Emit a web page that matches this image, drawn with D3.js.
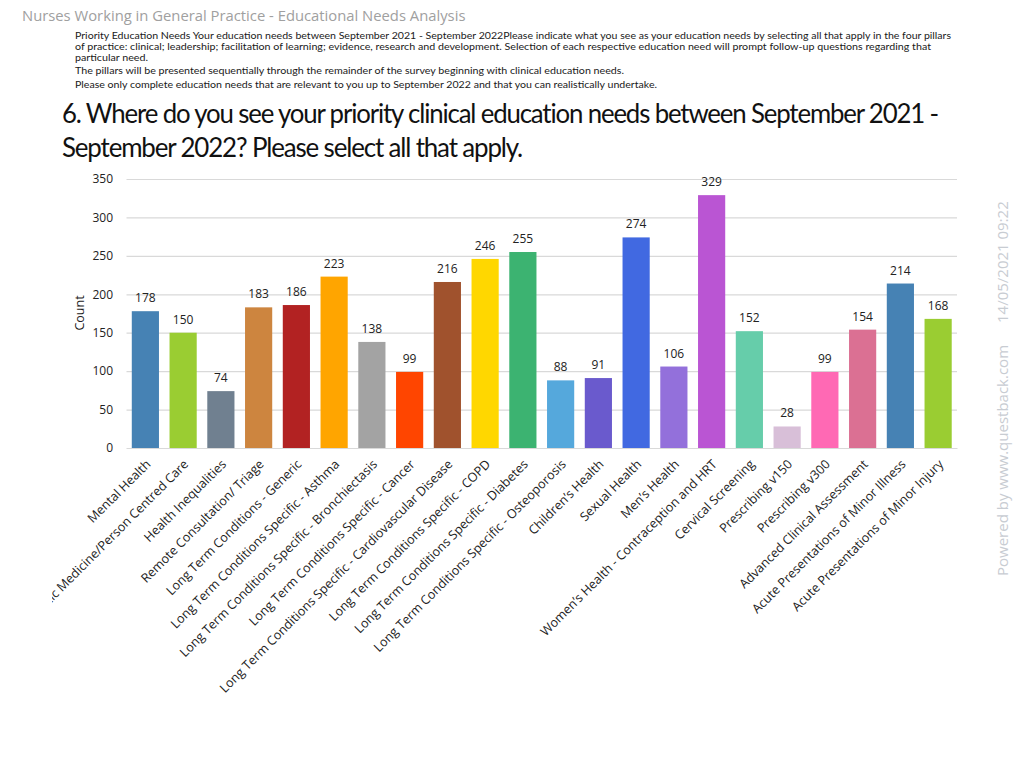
<!DOCTYPE html>
<html><head><meta charset="utf-8">
<script src="https://cdn.jsdelivr.net/npm/d3@7"></script>
<style>body{margin:0;background:#fff}svg{display:block}text{font-family:"Open Sans",sans-serif}</style>
</head><body>
<svg id="c" width="1024" height="768"></svg>
<script>
const categories = ["Mental Health","Holistic Medicine/Person Centred Care","Health Inequalities","Remote Consultation/ Triage","Long Term Conditions - Generic","Long Term Conditions Specific - Asthma","Long Term Conditions Specific - Bronchiectasis","Long Term Conditions Specific - Cancer","Long Term Conditions Specific  - Cardiovascular Disease","Long Term Conditions Specific - COPD","Long Term Conditions Specific - Diabetes","Long Term Conditions Specific - Osteoporosis","Children’s Health","Sexual Health","Men’s Health","Women’s Health - Contraception and HRT","Cervical Screening","Prescribing v150","Prescribing v300","Advanced Clinical Assessment","Acute Presentations of Minor Illness","Acute Presentations of Minor Injury"];
const values = [178,150,74,183,186,223,138,99,216,246,255,88,91,274,106,329,152,28,99,154,214,168];
const colors = ["#4682B4","#9ACD32","#708090","#CD853F","#B22222","#FFA500","#A3A3A3","#FF4500","#A0522D","#FFD700","#3CB371","#55A8DC","#6A5ACD","#4169E1","#9370DB","#BA55D3","#66CDAA","#D8BFD8","#FF69B4","#DB7093","#4682B4","#9ACD32"];
const yTicks = [0,50,100,150,200,250,300,350];
const headerTitle = "Nurses Working in General Practice - Educational Needs Analysis";
const introLines = ["Priority Education Needs Your education needs between September 2021 - September 2022Please indicate what you see as your education needs by selecting all that apply in the four pillars","of practice: clinical; leadership; facilitation of learning; evidence, research and development. Selection of each respective education need will prompt follow-up questions regarding that","particular need.","The pillars will be presented sequentially through the remainder of the survey beginning with clinical education needs.","Please only complete education needs that are relevant to you up to September 2022 and that you can realistically undertake."];
const questionLines = ["6. Where do you see your priority clinical education needs between September 2021 -","September 2022? Please select all that apply."];
const yTitle = "Count";
const watermark = ["14/05/2021 09:22","Powered by www.questback.com"];

const svg = d3.select("#c");
const x = d3.scaleBand().domain(categories).range([126.5, 957]).paddingInner(0.28).paddingOuter(0.14);
const y = d3.scaleLinear().domain([0,350]).range([448,179]);

svg.append("defs").append("clipPath").attr("id","clipL").append("rect")
  .attr("x",52).attr("y",0).attr("width",972).attr("height",768);

// header
svg.append("text").attr("x",22).attr("y",21).attr("font-size",14.8).attr("fill","#a0a0a0").text(headerTitle);
const introY = [39,50,61,74,88];
const introW = [876,856,73,549,582];
introLines.forEach((t,i)=>{
  svg.append("text").attr("x",75).attr("y",introY[i]).attr("font-size",9.1).attr("fill","#1a1a1a")
    .style("font-family","Lato")
    .attr("textLength",introW[i]).attr("lengthAdjust","spacingAndGlyphs").text(t);
});
const qY = [123,157], qW = [876,460];
questionLines.forEach((t,i)=>{
  svg.append("text").attr("x",62).attr("y",qY[i]).attr("font-size",27).attr("fill","#111")
    .style("font-family","Lato").attr("letter-spacing",-1.2)
    .attr("textLength",qW[i]).attr("lengthAdjust","spacingAndGlyphs").text(t);
});

// grid
const g = svg.append("g");
g.selectAll("line.grid").data(yTicks).join("line")
  .attr("x1",126.5).attr("x2",957).attr("y1",d=>y(d)+0.5).attr("y2",d=>y(d)+0.5)
  .attr("stroke","#d9d9d9").attr("stroke-width",1.2);
const yAxis = d3.axisLeft(y).tickValues(yTicks).tickSize(0).tickPadding(14);
const ya = svg.append("g").attr("transform","translate(127,0)").call(yAxis);
ya.select(".domain").remove();
ya.selectAll("text").attr("font-size",12).attr("fill","#222").attr("font-family","Open Sans");
svg.append("text").attr("transform","translate(84,313) rotate(-90)").attr("text-anchor","middle")
  .attr("font-size",12.5).attr("fill","#222").text(yTitle);

// bars
g.selectAll("rect.bar").data(values).join("rect")
  .attr("x",(d,i)=>x(categories[i])).attr("width",x.bandwidth())
  .attr("y",d=>y(d)).attr("height",d=>y(0)-y(d)).attr("fill",(d,i)=>colors[i]);
g.selectAll("text.val").data(values).join("text")
  .attr("x",(d,i)=>x(categories[i])+x.bandwidth()/2).attr("y",d=>y(d)-9)
  .attr("text-anchor","middle").attr("font-size",12).attr("fill","#222").text(d=>d);

// x axis
const xAxis = d3.axisBottom(x).tickSize(0).tickPadding(0);
const xa = svg.append("g").attr("transform","translate(0,448)").attr("clip-path","url(#clipL)").call(xAxis);
xa.select(".domain").attr("stroke","#d9d9d9").attr("stroke-width",1.2);
xa.selectAll("text").attr("font-size",12.6).attr("fill","#222").attr("font-family","Open Sans")
  .attr("text-anchor","end").attr("dy",0).attr("y",0)
  .attr("transform","translate(6,17) rotate(-45)");

// watermark
svg.append("text").attr("transform","translate(1008,323) rotate(-90)").attr("font-size",15).attr("fill","#c8ccd2").text(watermark[0]);
svg.append("text").attr("transform","translate(1008,576) rotate(-90)").attr("font-size",15).attr("fill","#c8ccd2").text(watermark[1]);
</script>
</body></html>
